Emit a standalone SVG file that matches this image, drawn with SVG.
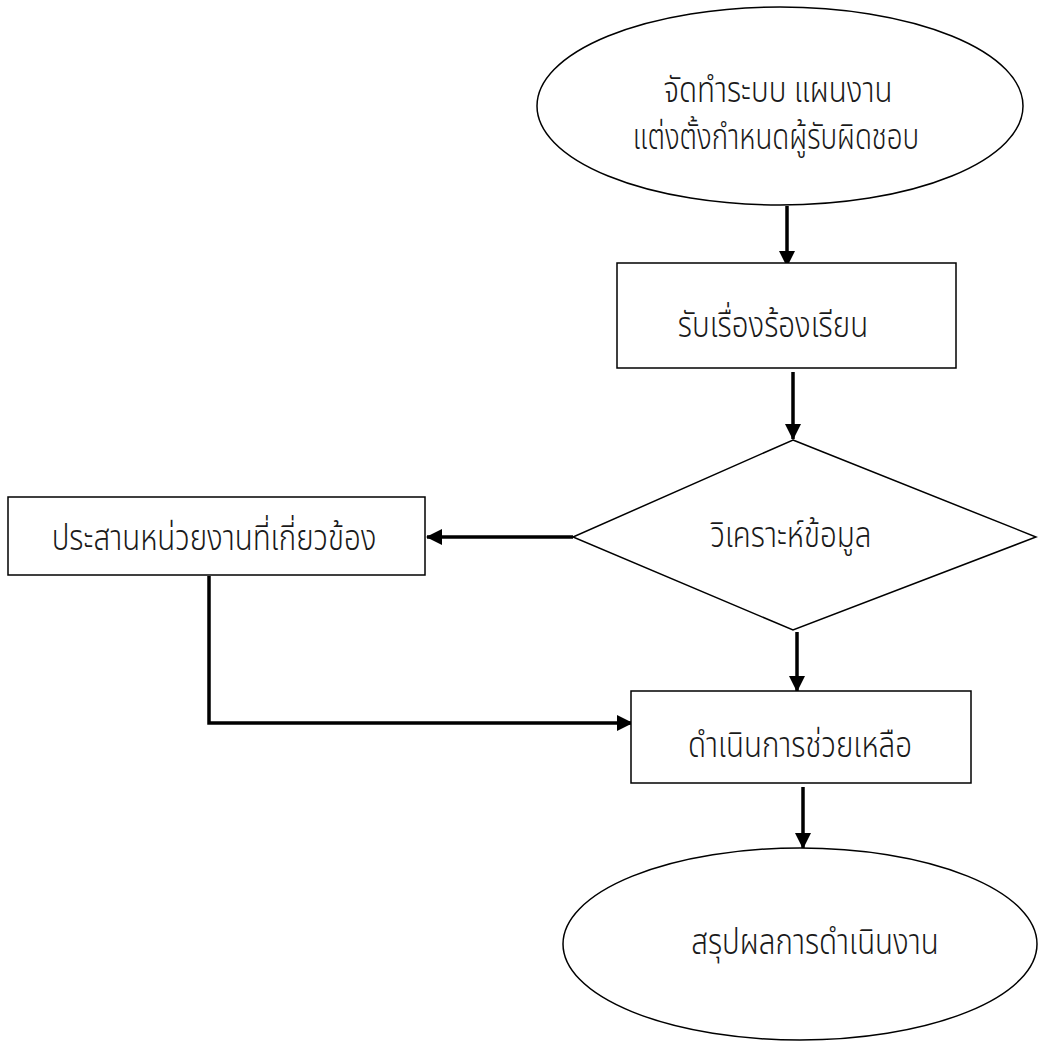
<svg xmlns="http://www.w3.org/2000/svg" width="1038" height="1042" viewBox="0 0 1038 1042">
<style>
.shape{fill:#ffffff;stroke:#000000;stroke-width:1.5}
.lbl{font-family:"Noto Sans Thai","Noto Sans Thai UI","Noto Sans",sans-serif;font-size:29.5px;font-weight:350;fill:#1a1a1a;text-anchor:middle}
.conn{fill:none;stroke:#000000;stroke-width:3.5}
</style>
<defs>
<marker id="arr" markerUnits="userSpaceOnUse" markerWidth="16" markerHeight="16" viewBox="0 0 16 16" refX="15" refY="8" orient="auto">
<path d="M0,0 L16,8 L0,16 Z" fill="#000000"/>
</marker>
</defs>
<rect width="1038" height="1042" fill="#ffffff"/>
<g id="connectors">
<line class="conn" x1="787" y1="206" x2="787" y2="266" marker-end="url(#arr)"/>
<line class="conn" x1="793" y1="372" x2="793" y2="439" marker-end="url(#arr)"/>
<line class="conn" x1="573" y1="537" x2="427" y2="537" marker-end="url(#arr)"/>
<line class="conn" x1="797" y1="632" x2="797" y2="691" marker-end="url(#arr)"/>
<polyline class="conn" points="209,576 209,723 632,723" marker-end="url(#arr)"/>
<line class="conn" x1="803" y1="787" x2="803" y2="848" marker-end="url(#arr)"/>
</g>
<g id="n1">
<ellipse class="shape" cx="780" cy="106" rx="243" ry="99"/>
<text class="lbl" transform="translate(778,102) scale(1,1.2)">จัดทำระบบ แผนงาน</text>
<text class="lbl" transform="translate(776,149) scale(0.94,1.2)">แต่งตั้งกำหนดผู้รับผิดชอบ</text>
</g>
<g id="n2">
<rect class="shape" x="617" y="263" width="339" height="105"/>
<text class="lbl" transform="translate(773,337) scale(1,1.2)">รับเรื่องร้องเรียน</text>
</g>
<g id="n3">
<polygon class="shape" points="793,440 1036,537 793,630 573,537"/>
<text class="lbl" transform="translate(791,547) scale(1,1.2)">วิเคราะห์ข้อมูล</text>
</g>
<g id="n4">
<rect class="shape" x="8" y="497" width="417" height="78"/>
<text class="lbl" transform="translate(214,550) scale(1,1.2)">ประสานหน่วยงานที่เกี่ยวข้อง</text>
</g>
<g id="n5">
<rect class="shape" x="631" y="691" width="340" height="92"/>
<text class="lbl" transform="translate(800,757) scale(1,1.2)">ดำเนินการช่วยเหลือ</text>
</g>
<g id="n6">
<ellipse class="shape" cx="800" cy="944" rx="237" ry="96"/>
<text class="lbl" transform="translate(815,954) scale(1,1.2)">สรุปผลการดำเนินงาน</text>
</g>
</svg>
